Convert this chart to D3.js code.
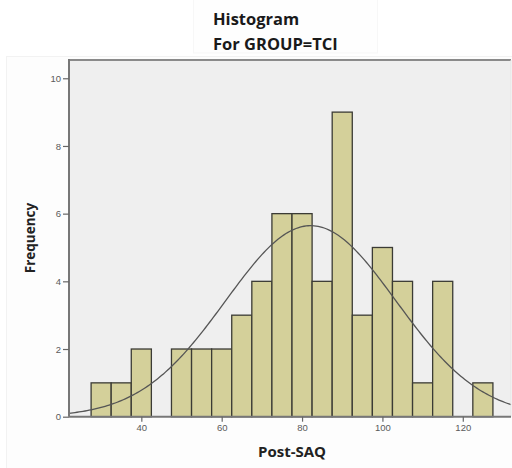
<!DOCTYPE html>
<html>
<head>
<meta charset="utf-8">
<script src="https://cdn.jsdelivr.net/npm/d3@7"></script>
<style>
  html, body { margin: 0; padding: 0; background: #fff; }
  svg { display: block; }
</style>
</head>
<body>
<svg id="chart" width="512" height="468"></svg>
<script>
// Post-SAQ histogram, bins of width 5 (centres below) with counts
const binCenters = [30, 35, 40, 45, 50, 55, 60, 65, 70, 75, 80, 85, 90, 95, 100, 105, 110, 115, 120, 125];
const binCounts  = [1, 1, 2, 0, 2, 2, 2, 3, 4, 6, 6, 4, 9, 3, 5, 4, 1, 4, 0, 1];
const binWidth = 5;
const xTicks = [40, 60, 80, 100, 120];
const yTicks = [0, 2, 4, 6, 8, 10];
const titleLines = ["Histogram", "For GROUP=TCI"];
const xLabel = "Post-SAQ";
const yLabel = "Frequency";

const svg = d3.select("#chart");
const plotLeft = 69, plotRight = 511, plotTop = 60, plotBottom = 416.7;

const x = d3.scaleLinear().domain([22, 132]).range([plotLeft, plotRight]);
const y = d3.scaleLinear().domain([0, 10.54]).range([plotBottom, plotTop]);

// faint outer panels
svg.append("rect").attr("x", 6.5).attr("y", 56.5).attr("width", 520).attr("height", 420)
  .attr("fill", "#fdfdfd").attr("stroke", "#f2f2f2");
svg.append("rect").attr("x", 193.5).attr("y", -1).attr("width", 184).attr("height", 54)
  .attr("fill", "#fefefe").attr("stroke", "#f7f7f7");

// title
svg.append("g").selectAll("text").data(titleLines).join("text")
  .attr("x", 213).attr("y", (d, i) => 25 + i * 24.5)
  .attr("font-family", "'Open Sans', sans-serif").attr("font-weight", "bold")
  .attr("font-size", 16.5).attr("fill", "#1a1a1a")
  .text(d => d);

// plot background
svg.append("rect").attr("x", plotLeft).attr("y", plotTop)
  .attr("width", plotRight - plotLeft).attr("height", plotBottom - plotTop)
  .attr("fill", "#efefef");

// bars
const bins = binCenters.map((c, i) => ({ x0: c - binWidth / 2, x1: c + binWidth / 2, n: binCounts[i] }))
  .filter(d => d.n > 0);
svg.append("g").selectAll("rect").data(bins).join("rect")
  .attr("x", d => x(d.x0)).attr("y", d => y(d.n))
  .attr("width", d => x(d.x1) - x(d.x0)).attr("height", d => y(0) - y(d.n))
  .attr("fill", "#d4d09a").attr("stroke", "#3b3b35").attr("stroke-width", 1.3);

// normal curve from the binned data
const total = d3.sum(binCounts);
const mean = d3.sum(binCenters, (c, i) => c * binCounts[i]) / total;
const sd = Math.sqrt(d3.sum(binCenters, (c, i) => binCounts[i] * (c - mean) ** 2) / (total - 1));
const dens = v => total * binWidth / (sd * Math.sqrt(2 * Math.PI)) * Math.exp(-0.5 * ((v - mean) / sd) ** 2);
const curveX = d3.range(22, 132.01, 0.5);
svg.append("path")
  .datum(curveX)
  .attr("d", d3.line().x(v => x(v)).y(v => y(dens(v))))
  .attr("fill", "none").attr("stroke", "#555").attr("stroke-width", 1.3);

// frame
svg.append("line").attr("x1", plotLeft).attr("x2", plotRight).attr("y1", plotTop).attr("y2", plotTop)
  .attr("stroke", "#8a8a8a").attr("stroke-width", 2);
svg.append("line").attr("x1", plotRight).attr("x2", plotRight).attr("y1", plotTop).attr("y2", plotBottom)
  .attr("stroke", "#e4e4e4").attr("stroke-width", 1);

// axes
const yAxis = svg.append("g").attr("transform", `translate(${plotLeft},0)`)
  .call(d3.axisLeft(y).tickValues(yTicks).tickSize(6).tickPadding(2));
const xAxis = svg.append("g").attr("transform", `translate(0,${plotBottom})`)
  .call(d3.axisBottom(x).tickValues(xTicks).tickSize(5).tickPadding(3));
[xAxis, yAxis].forEach(g => {
  g.select(".domain").attr("stroke", "#777").attr("stroke-width", 2);
  g.selectAll(".tick line").attr("stroke", "#666").attr("stroke-width", 1.2);
  g.selectAll(".tick text").attr("fill", "#5a5a5a").attr("font-size", 9.5)
    .attr("font-family", "'Liberation Sans', Arial, sans-serif");
});
yAxis.select(".domain").attr("d", `M0,${plotTop - 1}V${plotBottom}`);
xAxis.select(".domain").attr("d", `M${plotLeft},0H${plotRight}`);

// axis titles
svg.append("text").attr("x", 292).attr("y", 457).attr("text-anchor", "middle")
  .attr("font-family", "'Open Sans', sans-serif").attr("font-weight", "bold")
  .attr("font-size", 15).attr("fill", "#222").text(xLabel);
svg.append("text").attr("transform", "translate(35,238) rotate(-90)").attr("text-anchor", "middle")
  .attr("font-family", "'Open Sans', sans-serif").attr("font-weight", "bold")
  .attr("font-size", 13.5).attr("fill", "#222").text(yLabel);
</script>
</body>
</html>
